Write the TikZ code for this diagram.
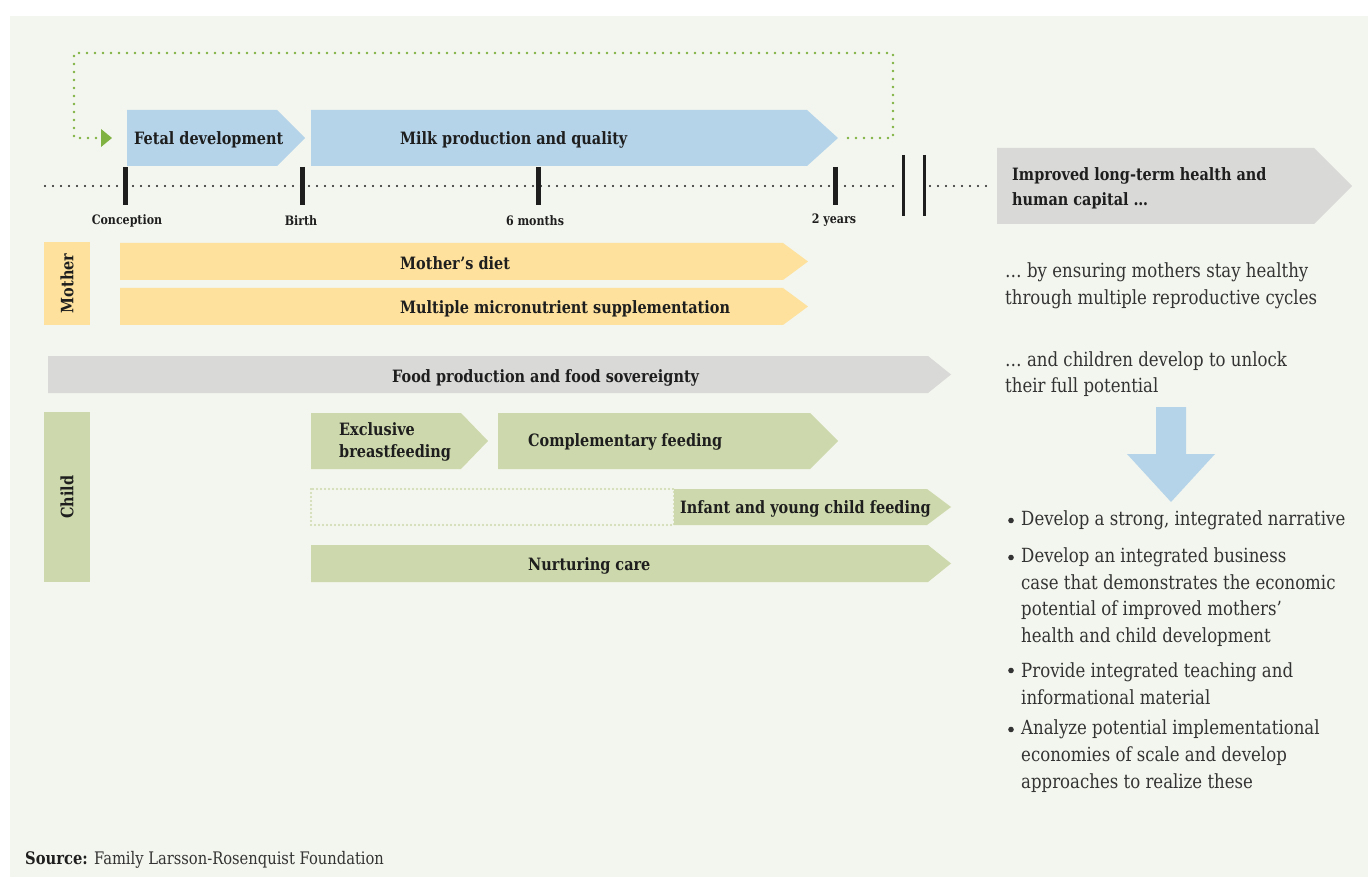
\documentclass[tikz,border=0pt]{standalone}
\usepackage{fontspec}
\setmainfont{DejaVu Serif}[FakeStretch=0.85]
\usetikzlibrary{calc}

\definecolor{bgpanel}{HTML}{F3F6EE}
\definecolor{phaseblue}{HTML}{B5D4EA}
\definecolor{mumyellow}{HTML}{FDE19D}
\definecolor{neutralgray}{HTML}{D9D9D8}
\definecolor{kidgreen}{HTML}{CDD9AC}
\definecolor{loopgreen}{HTML}{7FB241}
\definecolor{inkdark}{HTML}{1E1E1E}
\definecolor{inkbody}{HTML}{333333}

\tikzset{
  lbl/.style={font=\bfseries\fontsize{17}{22}\selectfont, text=inkdark, inner sep=0pt, align=left, yshift=-1.5pt},
  ticklbl/.style={font=\bfseries\fontsize{13}{15}\selectfont, text=inkdark, inner sep=0pt, yshift=-1.5pt},
  sidelbl/.style={font=\bfseries\fontsize{17}{18}\selectfont, text=inkdark, inner sep=0pt, rotate=90},
  body/.style={font=\fontsize{19.5}{26.7}\selectfont, text=inkbody, inner sep=0pt, align=left},
  bulletdot/.style={fill=inkbody},
  dotline/.style={line width=2.6pt, line cap=round, dash pattern=on 0pt off 8pt},
  tickmark/.style={line width=5pt, draw=inkdark},
  barmark/.style={line width=3pt, draw=inkdark},
}

% chevron bar: x1, y1, x2 (tip), y2, pointer length, colour
\newcommand\chevron[6]{%
  \fill[#6] (#1,#2) -- ({#3-#5},#2) -- (#3,{(#2+#4)/2}) -- ({#3-#5},#4) -- (#1,#4) -- cycle;}

\begin{document}
\begin{tikzpicture}[x=1pt,y=-1pt]
\useasboundingbox (0,0) rectangle (1368,877);
\fill[white] (0,0) rectangle (1368,877);
\fill[bgpanel] (10,16) rectangle (1368,877);

% feedback loop from the end of lactation back to conception
\coordinate (loopA) at (848,138);
\coordinate (loopB) at (893,53);
\coordinate (loopC) at (74,138);
\coordinate (loopD) at (97,138);
\draw[loopgreen, dotline] (loopA) -| (loopB) -| (loopC) -- (loopD);
\fill[loopgreen] (101,129) -- (112,138) -- (101,147) -- cycle;

% phases above the timeline
\chevron{127}{110}{305}{166}{28}{phaseblue}
\node[lbl, anchor=west] (fetal) at (134,138) {Fetal development};
\chevron{311}{110}{838}{166}{31}{phaseblue}
\node[lbl, anchor=west] (milk) at (400,138) {Milk production and quality};

% timeline
\coordinate (tlA) at (45,186);
\coordinate (tlB) at (898,186);
\coordinate (tlC) at (930,186);
\coordinate (tlD) at (990,186);
\draw[inkdark, dotline, line width=2.3pt] (tlA) -- (tlB);
\draw[inkdark, dotline, line width=2.3pt] (tlC) -- (tlD);
\foreach \x in {125,302,538,835} \draw[tickmark] (\x,167) -- (\x,205);
\draw[barmark] (903,155) -- (903,216);
\draw[barmark] (924,155) -- (924,216);
\node[ticklbl] (tconc) at (127,219) {Conception};
\node[ticklbl] (tbirth) at (301,219) {Birth};
\node[ticklbl] (tsix) at (535,219) {6 months};
\node[ticklbl] (ttwo) at (834,219) {2 years};

% outcome
\chevron{997}{148}{1352}{224}{38}{neutralgray}
\node[lbl, anchor=west, font=\bfseries\fontsize{17}{25}\selectfont] (outcome) at (1012,187) {Improved long-term health and\\human capital \dots};

% mother
\fill[mumyellow] (44,242) rectangle (90,325);
\node[sidelbl] (mother) at (67,283.5) {Mother};
\chevron{120}{243}{808}{280}{25}{mumyellow}
\node[lbl, anchor=west] (diet) at (400,262) {Mother’s diet};
\chevron{120}{288}{808}{325}{25}{mumyellow}
\node[lbl, anchor=west] (mms) at (400,307) {Multiple micronutrient supplementation};

% shared
\chevron{48}{356}{951}{393}{23}{neutralgray}
\node[lbl, anchor=west] (food) at (392,376) {Food production and food sovereignty};

% child
\fill[kidgreen] (44,412) rectangle (90,582);
\node[sidelbl] (child) at (67,497) {Child};
\chevron{311}{413}{488}{469}{27}{kidgreen}
\node[lbl, anchor=west] (ebf) at (339,440) {Exclusive\\breastfeeding};
\chevron{498}{413}{838}{469}{28}{kidgreen}
\node[lbl, anchor=west] (cf) at (528,440) {Complementary feeding};
\draw[kidgreen, line width=2.2pt, line cap=round, dash pattern=on 0pt off 4pt] (311,489) rectangle (674,525);
\chevron{674}{489}{951}{525}{24}{kidgreen}
\node[lbl, anchor=west] (iycf) at (680,507) {Infant and young child feeding};
\chevron{311}{545}{951}{582}{23}{kidgreen}
\node[lbl, anchor=west] (care) at (528,564) {Nurturing care};

% right-hand column
\node[body, anchor=west] (why1) at (1005,286) {\dots\ by ensuring mothers stay healthy\\through multiple reproductive cycles};
\node[body, anchor=west] (why2) at (1005,374) {\dots\ and children develop to unlock\\their full potential};
\fill[phaseblue] (1156,407) -- (1186,407) -- (1186,454) -- (1215,454) -- (1171,502) -- (1127,454) -- (1156,454) -- cycle;

\fill[bulletdot] (1011,520.5) circle (2.8);
\node[body, anchor=west] (act1) at (1021,520) {Develop a strong, integrated narrative};
\fill[bulletdot] (1011,557.5) circle (2.8);
\node[body, anchor=west] (act2) at (1021,597) {Develop an integrated business\\case that demonstrates the economic\\potential of improved mothers’\\health and child development};
\fill[bulletdot] (1011,670.5) circle (2.8);
\node[body, anchor=west] (act3) at (1021,683.5) {Provide integrated teaching and\\informational material};
\fill[bulletdot] (1011,729.5) circle (2.8);
\node[body, anchor=west] (act4) at (1021,756) {Analyze potential implementational\\economies of scale and develop\\approaches to realize these};

% source line
\node[anchor=west, inner sep=0pt, text=inkbody, font=\fontsize{17.3}{18}\selectfont] (src) at (25,860) {\textbf{\color{inkdark}Source:} Family Larsson-Rosenquist Foundation};
\end{tikzpicture}
\end{document}
